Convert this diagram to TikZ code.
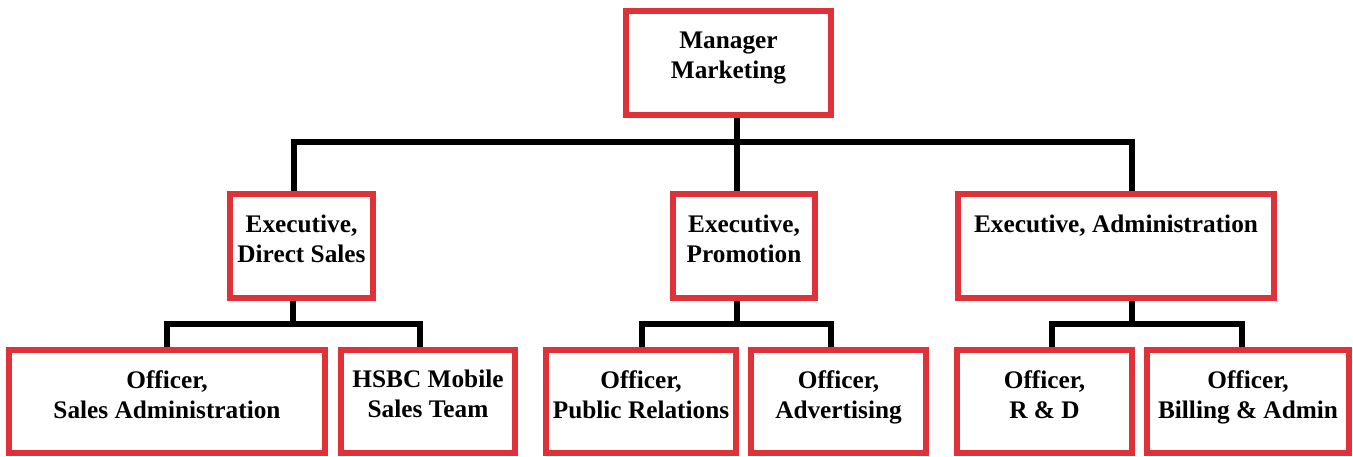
\documentclass[tikz,border=0pt]{standalone}
\usepackage{fontspec}
\setmainfont{Liberation Serif}
\definecolor{boxred}{RGB}{223,50,56}
\begin{document}
\begin{tikzpicture}[x=1pt,y=-1pt,
  box/.style={draw=boxred, line width=6pt, inner sep=0pt, fill=white},
  lbl/.style={anchor=north, inner sep=0pt, align=center, font=\fontsize{25.3}{30}\selectfont\bfseries},
  conn/.style={draw=black, line width=6pt, line join=miter}]
\useasboundingbox (0,0) rectangle (1353,456);
% boxes
\node[box, minimum width=205pt, minimum height=104pt] (mgr)  at (728.5,63) {};
\node[box, minimum width=143pt, minimum height=104pt] (eds)  at (301.5,246) {};
\node[box, minimum width=142pt, minimum height=104pt] (ep)   at (744,246) {};
\node[box, minimum width=316pt, minimum height=104pt] (ea)   at (1116,246) {};
\node[box, minimum width=316pt, minimum height=103pt] (osa)  at (167,401.5) {};
\node[box, minimum width=174pt, minimum height=103pt] (hsbc) at (428,401.5) {};
\node[box, minimum width=190pt, minimum height=103pt] (opr)  at (641,401.5) {};
\node[box, minimum width=175pt, minimum height=103pt] (oadv) at (838.5,401.5) {};
\node[box, minimum width=175pt, minimum height=103pt] (ord)  at (1044.5,401.5) {};
\node[box, minimum width=202pt, minimum height=103pt] (obill) at (1248,401.5) {};
% labels
\node[lbl] (mgrT)  at ([yshift=-23.5pt]mgr.north)  {Manager\\Marketing};
\node[lbl] (edsT)  at ([yshift=-23.5pt]eds.north)  {Executive,\\Direct Sales};
\node[lbl] (epT)   at ([yshift=-23.5pt]ep.north)   {Executive,\\Promotion};
\node[lbl] (eaT)   at ([yshift=-23.5pt]ea.north)   {Executive, Administration};
\node[lbl] (osaT)  at ([yshift=-23pt]osa.north)  {Officer,\\Sales Administration};
\node[lbl] (hsbcT) at ([yshift=-23pt]hsbc.north) {HSBC Mobile\\Sales Team};
\node[lbl] (oprT)  at ([yshift=-23pt]opr.north)  {Officer,\\Public Relations};
\node[lbl] (oadvT) at ([yshift=-23pt]oadv.north) {Officer,\\Advertising};
\node[lbl] (ordT)  at ([yshift=-23pt]ord.north)  {Officer,\\R \& D};
\node[lbl] (obillT) at ([yshift=-23pt]obill.north) {Officer,\\Billing \& Admin};
% junction coordinates
\coordinate (t0) at (737,142);
\coordinate (tL) at (294,142);
\coordinate (tR) at (1132,142);
\coordinate (b1m) at (293,324);
\coordinate (b1l) at (167,324);
\coordinate (b1r) at (420,324);
\coordinate (b2m) at (737,324);
\coordinate (b2l) at (642,324);
\coordinate (b2r) at (831,324);
\coordinate (b3m) at (1132,324);
\coordinate (b3l) at (1052,324);
\coordinate (b3r) at (1242,324);
% connectors
\draw[conn] (mgr.south -| t0) -- (ep.north -| t0);
\draw[conn] (eds.north -| tL) -- (tL) -- (tR) -- (ea.north -| tR);
\draw[conn] (eds.south -| b1m) -- (b1m);
\draw[conn] (osa.north -| b1l) -- (b1l) -- (b1r) -- (hsbc.north -| b1r);
\draw[conn] (ep.south -| b2m) -- (b2m);
\draw[conn] (opr.north -| b2l) -- (b2l) -- (b2r) -- (oadv.north -| b2r);
\draw[conn] (ea.south -| b3m) -- (b3m);
\draw[conn] (ord.north -| b3l) -- (b3l) -- (b3r) -- (obill.north -| b3r);
\end{tikzpicture}
\end{document}
